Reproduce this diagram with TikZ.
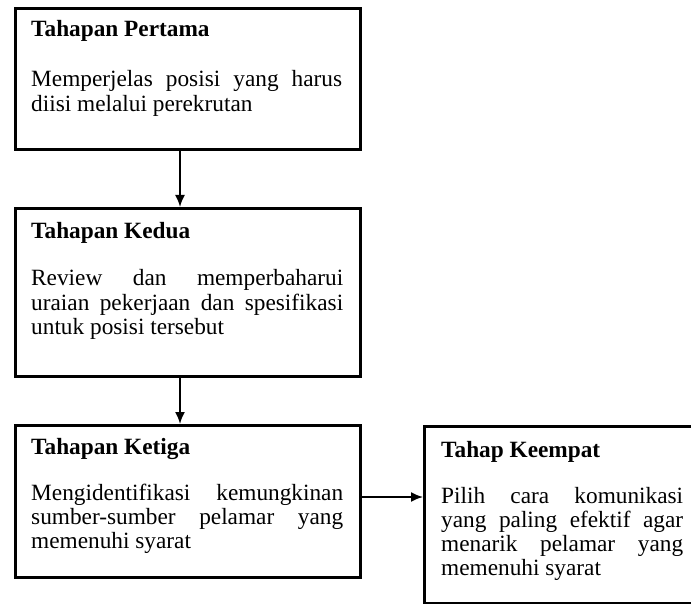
\documentclass[tikz,border=0pt]{standalone}
\usepackage{fontspec}
\setmainfont{Liberation Serif}
\usetikzlibrary{arrows.meta}
\begin{document}
\begin{tikzpicture}[x=1pt,y=-1pt,
  stagebox/.style={draw=black,line width=2.6pt,inner sep=0pt,anchor=north west},
  stagetitle/.style={anchor=base west,inner sep=0pt,font=\fontsize{23.3}{24.5}\selectfont\bfseries},
  stagetext/.style={anchor=base west,inner sep=0pt,align=justify,font=\fontsize{23.3}{24.3}\selectfont},
  flow/.style={line width=1.8pt,-{Latex[length=12pt,width=10pt]}}]
\useasboundingbox (0,0) rectangle (691,604);
\clip (0,0) rectangle (691,604);
% boxes
\node[stagebox,minimum width=345pt,minimum height=141pt] (b1) at (14,7) {};
\node[stagebox,minimum width=345pt,minimum height=168pt] (b2) at (14,207) {};
\node[stagebox,minimum width=345pt,minimum height=152pt] (b3) at (14,424) {};
\node[stagebox,minimum width=280pt,minimum height=177pt] (b4) at (423,425) {};
% texts
\node[stagetitle] (t1) at (31,37) {Tahapan Pertama};
\node[stagetext,text width=311pt] (d1) at (31,87) {Memperjelas posisi yang harus\linebreak diisi melalui perekrutan};
\node[stagetitle] (t2) at (31,239) {Tahapan Kedua};
\node[stagetext,text width=312pt] (d2) at (31,286) {Review dan memperbaharui\linebreak uraian pekerjaan dan spesifikasi\linebreak untuk posisi tersebut};
\node[stagetitle] (t3) at (31,454) {Tahapan Ketiga};
\node[stagetext,text width=312pt] (d3) at (31,500) {Mengidentifikasi kemungkinan\linebreak sumber-sumber pelamar yang\linebreak memenuhi syarat};
\node[stagetitle] (t4) at (441,457) {Tahap Keempat};
\node[stagetext,text width=242pt] (d4) at (441,503) {Pilih cara komunikasi\linebreak yang paling efektif agar\linebreak menarik pelamar yang\linebreak memenuhi syarat};
% connectors
\coordinate (ax) at (180,0);
\coordinate (ay) at (0,497);
\draw[flow] (b1.south -| ax) -- (b2.north -| ax);
\draw[flow] (b2.south -| ax) -- (b3.north -| ax);
\draw[flow] (b3.east |- ay) -- (b4.west |- ay);
\end{tikzpicture}
\end{document}
